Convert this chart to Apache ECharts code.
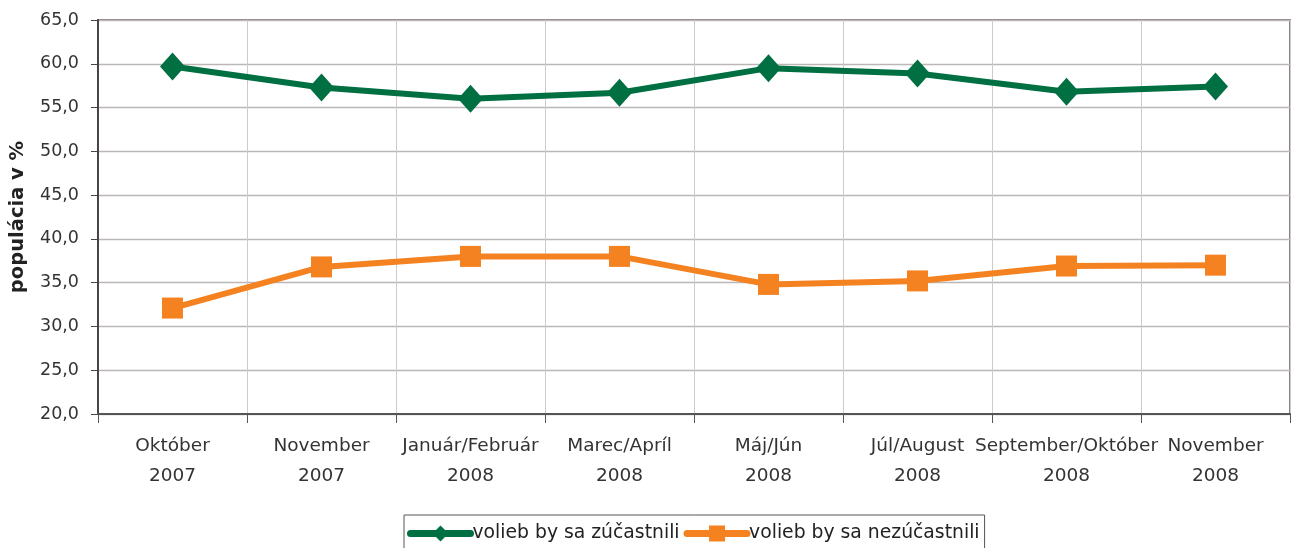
<!DOCTYPE html>
<html><head><meta charset="utf-8">
<script src="https://cdn.jsdelivr.net/npm/echarts@6/dist/echarts.min.js"></script>
<style>html,body{margin:0;padding:0;background:#fff}#c{width:1296px;height:548px}</style>
</head><body><div id="c"></div>
<script>
var categories = ['Október\n2007','November\n2007','Január/Február\n2008','Marec/Apríl\n2008','Máj/Jún\n2008','Júl/August\n2008','September/Október\n2008','November\n2008'];
var seriesNames = ['volieb by sa zúčastnili','volieb by sa nezúčastnili'];
var participate = [59.7, 57.3, 56.0, 56.7, 59.5, 58.9, 56.8, 57.4];
var notParticipate = [32.1, 36.8, 38.0, 38.0, 34.8, 35.2, 36.9, 37.0];
var yAxisName = 'populácia v %';

var font = 'DejaVu Sans';
var chart = echarts.init(document.getElementById('c'), null, {renderer:'canvas'});
chart.setOption({
  animation:false,
  textStyle:{fontFamily:font},
  grid:{left:97,right:6,top:20,bottom:134,show:true,borderColor:'#8c8484',borderWidth:2,backgroundColor:'#fff'},
  legend:{
    top:515, left:404,
    backgroundColor:'#fff', borderColor:'#555', borderWidth:1,
    padding:[9,5,8,3], itemGap:4, itemWidth:60, itemHeight:20,
    lineStyle:{width:7,cap:'round'},
    textStyle:{fontFamily:font,fontSize:18.8,color:'#222',padding:[0,0,0,-3]},
    data:seriesNames
  },
  xAxis:{
    type:'category', data:categories, boundaryGap:true,
    axisLine:{lineStyle:{color:'#555',width:2}},
    axisTick:{show:true,length:9,lineStyle:{color:'#555'}},
    splitLine:{show:true,lineStyle:{color:'#cfcaca',width:1}},
    axisLabel:{color:'#333',fontSize:18.5,lineHeight:30,margin:17,interval:0,fontFamily:font}
  },
  yAxis:{
    type:'value', min:20, max:65, interval:5,
    name:yAxisName, nameLocation:'middle', nameGap:70, nameRotate:90,
    nameTextStyle:{fontWeight:'bold',fontSize:19.5,color:'#222',fontFamily:font},
    axisLine:{show:true,lineStyle:{color:'#4a4444',width:2}},
    axisTick:{show:true,length:7,lineStyle:{color:'#4a4444'}},
    splitLine:{lineStyle:{color:'#bdb6b6',width:1.3}},
    axisLabel:{color:'#333',fontSize:17.5,margin:19,fontFamily:font,formatter:function(v){return v.toFixed(1).replace('.',',');}}
  },
  series:[
    {name:seriesNames[0],type:'line',data:participate,symbol:'diamond',symbolSize:[25,28],
     itemStyle:{color:'#006f41'},lineStyle:{color:'#006f41',width:6}},
    {name:seriesNames[1],type:'line',data:notParticipate,symbol:'rect',symbolSize:[21,21],
     itemStyle:{color:'#f58220'},lineStyle:{color:'#f58220',width:6}}
  ]
});
</script></body></html>
